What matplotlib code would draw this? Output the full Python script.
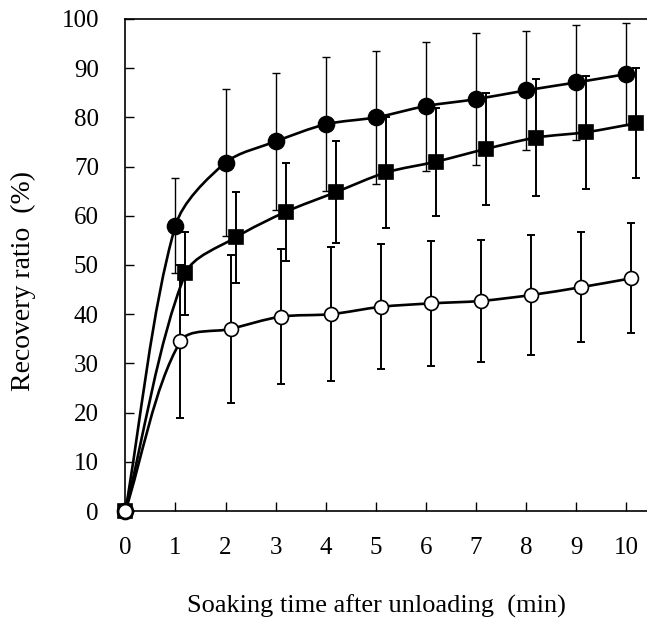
import numpy as np
import matplotlib
matplotlib.use("Agg")
import matplotlib.pyplot as plt
from matplotlib.path import Path
from matplotlib.patches import PathPatch

# ---- data ----
time_min = [0, 1, 2, 3, 4, 5, 6, 7, 8, 9, 10]
filled_circle = [0, 58.0, 70.8, 75.1, 78.6, 80.0, 82.3, 83.7, 85.5, 87.1, 88.8]
filled_circle_err = [0, 9.7, 14.9, 14.0, 13.6, 13.5, 13.1, 13.4, 12.1, 11.6, 10.3]
filled_square = [0, 48.3, 55.6, 60.8, 64.8, 68.8, 71.0, 73.6, 75.9, 77.0, 78.8]
filled_square_err = [0, 8.4, 9.2, 10.0, 10.4, 11.2, 11.0, 11.4, 11.8, 11.5, 11.2]
open_circle = [0, 34.5, 37.0, 39.5, 40.0, 41.5, 42.2, 42.7, 43.9, 45.5, 47.3]
open_circle_err = [0, 15.5, 15.0, 13.7, 13.6, 12.7, 12.7, 12.4, 12.2, 11.2, 11.2]
x_offsets = {"filled_circle": 0.0, "open_circle": 0.1, "filled_square": 0.2}
xticks = list(range(0, 11))
yticks = list(range(0, 101, 10))

plt.rcParams['font.family'] = ['Liberation Serif', 'DejaVu Serif']

fig = plt.figure(figsize=(6.47, 6.18), dpi=100)
ax = fig.add_axes([0.1937, 0.1731, 0.8063, 0.7962])
ax.set_xlim(0, 10.41)
ax.set_ylim(0, 100)

# scale to roughly equal visual units (px per data unit) for smoothing
SX, SY = 50.1, 4.92


def smooth_path(xs, ys, t=0.3):
    pts = np.column_stack([np.asarray(xs, float) * SX, np.asarray(ys, float) * SY])
    n = len(pts)
    verts = [pts[0]]
    codes = [Path.MOVETO]

    def tangent(i):
        p0 = pts[i - 1] if i > 0 else pts[i]
        p2 = pts[i + 1] if i + 1 < n else pts[i]
        d = p2 - p0
        nd = np.hypot(*d)
        return d / nd if nd > 0 else d

    for i in range(n - 1):
        p1 = pts[i]
        p2 = pts[i + 1]
        L = np.hypot(*(p2 - p1))
        c1 = p1 + tangent(i) * L * t
        c2 = p2 - tangent(i + 1) * L * t
        verts += [c1, c2, p2]
        codes += [Path.CURVE4] * 3
    verts = np.array(verts)
    verts[:, 0] /= SX
    verts[:, 1] /= SY
    return Path(verts, codes)


def draw_series(vals, errs, off, marker, ms, mfc, elw, z):
    xs = [t + (off if t > 0 else 0) for t in time_min]
    patch = PathPatch(smooth_path(xs, vals), facecolor='none', edgecolor='black',
                      lw=1.9, zorder=z, clip_on=False)
    ax.add_patch(patch)
    ax.errorbar(xs[1:], vals[1:], yerr=errs[1:], fmt='none', ecolor='black',
                elinewidth=elw, capsize=3.0, capthick=elw, zorder=z - 1)
    ax.plot(xs, vals, linestyle='none', marker=marker, ms=ms, mfc=mfc,
            mec='black', mew=1.2, zorder=z + 1, clip_on=False)


draw_series(filled_circle, filled_circle_err, x_offsets["filled_circle"], 'o', 11.5, 'black', 1.0, 3)
draw_series(filled_square, filled_square_err, x_offsets["filled_square"], 's', 9.5, 'black', 1.4, 6)
draw_series(open_circle, open_circle_err, x_offsets["open_circle"], 'o', 10, 'white', 1.4, 9)

ax.set_xticks(xticks)
ax.set_yticks(yticks)
ax.tick_params(direction='in', length=6.5, width=1.0, labelsize=18)
ax.tick_params(axis='y', pad=19)
ax.tick_params(axis='x', pad=19)
ax.spines['right'].set_visible(False)
for s in ['left', 'bottom', 'top']:
    ax.spines[s].set_linewidth(1.2)

ax.set_xlabel('Soaking time after unloading  (min)', fontsize=19)
ax.set_ylabel('Recovery ratio  (%)', fontsize=20)
ax.xaxis.set_label_coords(0.482, -0.193)
ax.xaxis.label.set_va('center')
ax.yaxis.set_label_coords(-0.196, 0.467)
ax.yaxis.label.set_va('center')

fig.savefig('out.png', dpi=100)
